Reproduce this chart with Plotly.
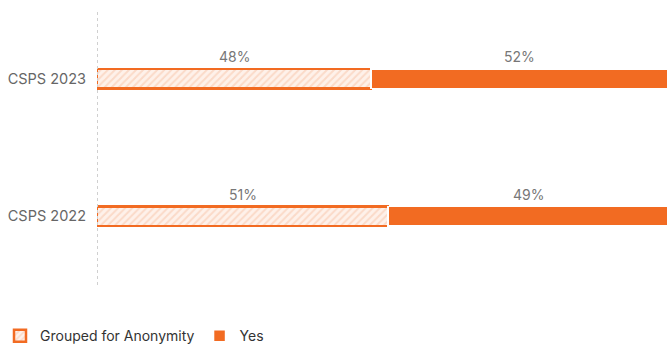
import plotly.graph_objects as go

# Data
surveys = ["CSPS 2022", "CSPS 2023"]
grouped_pct = [51, 48]
yes_pct = [49, 52]

ORANGE = "#F26B22"
HATCH_FG = "#F8C3A5"
HATCH_BG = "#FEF1EA"
LABEL_GREY = "#777777"

fig = go.Figure()

fig.add_trace(go.Bar(
    y=surveys,
    x=grouped_pct,
    orientation="h",
    name="Grouped for Anonymity",
    marker=dict(
        color=HATCH_BG,
        pattern=dict(shape="/", fgcolor=HATCH_FG, bgcolor=HATCH_BG, size=5, solidity=0.4),
        line=dict(color=ORANGE, width=2.5),
    ),
    hoverinfo="skip",
))

fig.add_trace(go.Bar(
    y=surveys,
    x=yes_pct,
    orientation="h",
    name="Yes",
    marker=dict(color=ORANGE, line=dict(color="white", width=1.5)),
    hoverinfo="skip",
))

# percentage labels centred above each segment
for s, g, y in zip(surveys, grouped_pct, yes_pct):
    for center, val in [(g / 2, g), (g + y / 2, y)]:
        fig.add_annotation(
            x=center, y=s, text=f"{val}%", showarrow=False,
            yshift=22, font=dict(size=14, color=LABEL_GREY),
        )

# dotted baseline
fig.add_shape(
    type="line", xref="x", yref="paper", x0=0, x1=0, y0=0, y1=1,
    line=dict(color="#D0D0D0", width=2, dash="dot"),
)

fig.update_layout(
    width=668,
    height=352,
    barmode="stack",
    bargap=0.855,
    margin=dict(l=97, r=0, t=10, b=67),
    plot_bgcolor="white",
    paper_bgcolor="white",
    font=dict(family="Inter, Roboto, sans-serif", size=14, color="#666666"),
    xaxis=dict(range=[0, 100], visible=False),
    yaxis=dict(
        showgrid=False, zeroline=False, showline=False,
        ticks="", ticklabelstandoff=10,
        tickfont=dict(size=14.5, color="#666666"),
    ),
    legend=dict(
        orientation="h", x=0.0, xref="container", y=0.045, yref="container",
        xanchor="left", yanchor="middle", traceorder="normal",
        font=dict(size=14, color="#333333"),
        itemwidth=30,
    ),
    showlegend=True,
)

# drop the default page margin so the figure sits flush in the window
fig.write_html(
    "out.html",
    config={"displayModeBar": False},
    post_script="document.body.style.margin='0';",
)
